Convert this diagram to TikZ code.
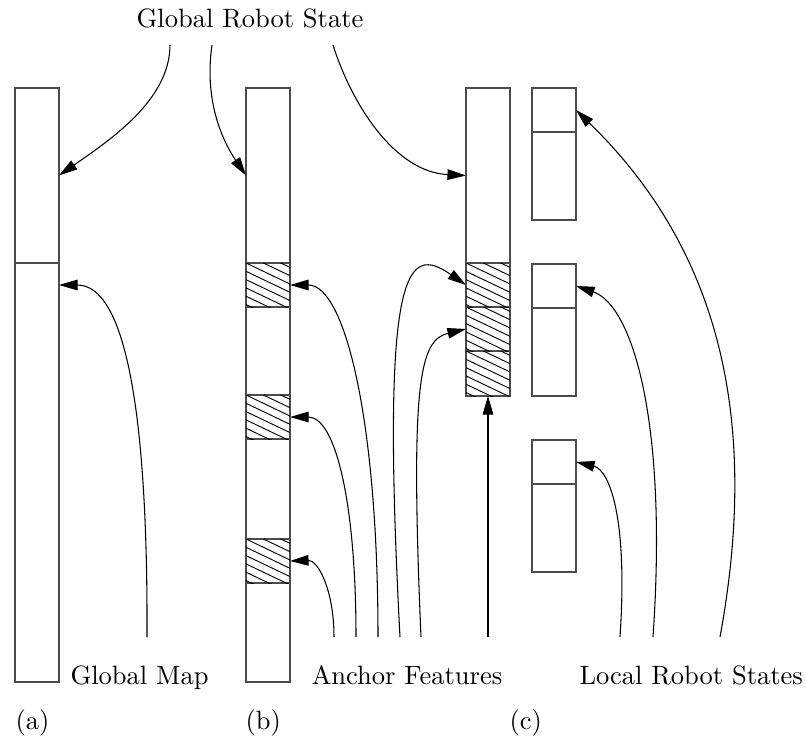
\documentclass[tikz,border=0pt]{standalone}
\usetikzlibrary{arrows.meta,fit,calc}
\begin{document}
\begin{tikzpicture}[x=0.377pt,y=-0.377pt,
  cell/.style={draw=black!70, line width=0.5pt, rectangle, inner sep=0pt, outer sep=0pt},
  link/.style={line width=0.4pt, -{Triangle[length=7pt,width=4pt]}},
  hatchline/.style={line width=0.35pt},
  lbl/.style={inner sep=0pt, anchor=base west}]
\useasboundingbox (0,0) rectangle (806,744);

% a cell is a rectangle node spanning two corners
\newcommand\cellbox[5]{\node[cell, fit={(#2,#3) (#4,#5)}] (#1) {};}
% diagonal hatching inside a named cell
\newcommand\hatchbox[1]{%
  \begin{scope}
    \clip (#1.south west) rectangle (#1.north east);
    \foreach \k in {-4,...,8}
      \draw[hatchline] ($(#1.north west)+(0,\k*8.3)$) -- ++(44,21);
  \end{scope}}

% (a) global map
\cellbox{atop}{15}{88}{59}{263}
\cellbox{abot}{15}{263}{59}{682}

% (b) global map with anchor features
\cellbox{btop}{246}{88}{290}{263}
\cellbox{bh1}{246}{263}{290}{307}
\cellbox{bw1}{246}{307}{290}{395}
\cellbox{bh2}{246}{395}{290}{439}
\cellbox{bw2}{246}{439}{290}{539}
\cellbox{bh3}{246}{539}{290}{583}
\cellbox{bw3}{246}{583}{290}{682}
\hatchbox{bh1}\hatchbox{bh2}\hatchbox{bh3}

% (c) robot state plus anchor features
\cellbox{ctop}{466}{88}{510}{263}
\cellbox{ch1}{466}{263}{510}{307}
\cellbox{ch2}{466}{307}{510}{351}
\cellbox{ch3}{466}{351}{510}{396}
\hatchbox{ch1}\hatchbox{ch2}\hatchbox{ch3}

% local robot states
\cellbox{l1a}{532}{88}{576}{132}
\cellbox{l1b}{532}{132}{576}{220}
\cellbox{l2a}{532}{264}{576}{308}
\cellbox{l2b}{532}{308}{576}{396}
\cellbox{l3a}{532}{440}{576}{484}
\cellbox{l3b}{532}{484}{576}{572}

% labels
\node[inner sep=0pt, anchor=base] (grs) at (250,27) {Global Robot State};
\node[lbl] (gmap) at (70,684) {Global Map};
\node[lbl] (anch) at (311,684) {Anchor Features};
\node[lbl] (lrs) at (579,684) {Local Robot States};
\node[lbl] (capa) at (15,729) {(a)};
\node[lbl] (capb) at (245,729) {(b)};
\node[lbl] (capc) at (509,729) {(c)};

% free ends of the connectors
\coordinate (g1) at (170,45);
\coordinate (g2) at (212,45);
\coordinate (g3) at (333,45);
\coordinate (m1) at (147,637);
\coordinate (f1) at (334,637);
\coordinate (f2) at (356,637);
\coordinate (f3) at (378,637);
\coordinate (f4) at (400,637);
\coordinate (f5) at (421,637);
\coordinate (f6) at (488,637);
\coordinate (r1) at (620,637);
\coordinate (r2) at (653,637);
\coordinate (r3) at (720,637);
\coordinate (atgt) at ($(abot.north east)+(0,22)$);

% global robot state
\draw[link] (g1) .. controls (170,100) and (110,140) .. (atop.east);
\draw[link] (g2) .. controls (204,100) and (222,140) .. (btop.west);
\draw[link] (g3) .. controls (352,105) and (395,172) .. (ctop.west);

% global map
\draw[link] (m1) .. controls (148,410) and (125,285) .. (atgt);

% anchor features
\draw[link] (f1) .. controls (334,590) and (318,560) .. (bh3.east);
\draw[link] (f2) .. controls (356,500) and (335,417) .. (bh2.east);
\draw[link] (f3) .. controls (378,420) and (345,285) .. (bh1.east);
\draw[link] (f4) .. controls (380,260) and (408,245) .. (ch1.west);
\draw[link] (f5) .. controls (410,380) and (420,340) .. (ch2.west);
\draw[link] (f6) -- (ch3.south);

% local robot states
\draw[link] (r1) .. controls (628,520) and (610,470) .. (l3a.east);
\draw[link] (r2) .. controls (668,420) and (632,305) .. (l2a.east);
\draw[link] (r3) .. controls (760,420) and (720,250) .. (l1a.east);
\end{tikzpicture}
\end{document}
